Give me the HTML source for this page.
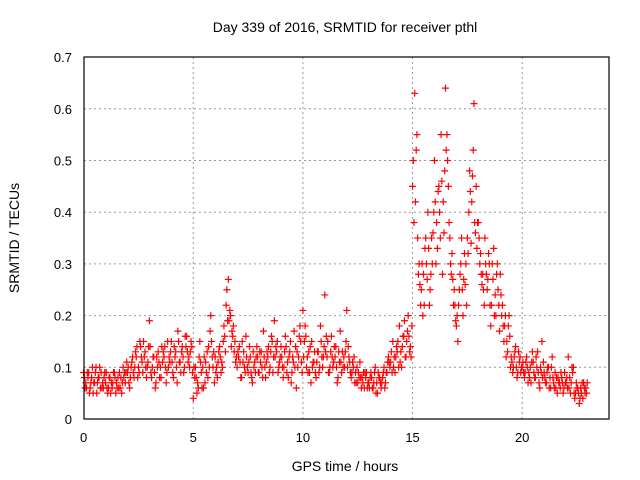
<!DOCTYPE html>
<html><head><meta charset="utf-8"><style>
body{margin:0;background:#fff}
svg{display:block;font-family:"Liberation Sans",sans-serif}
</style></head><body>
<svg id="chart" width="640" height="480">
<text x="345" y="32" text-anchor="middle" font-size="14">Day 339 of 2016, SRMTID for receiver pthl</text>
<text x="345" y="471" text-anchor="middle" font-size="14">GPS time / hours</text>
<text transform="translate(19,238) rotate(-90)" text-anchor="middle" font-size="14">SRMTID / TECUs</text>
<g id="grid"></g><g id="ticks"></g><g id="pts"></g>
<rect x="84" y="57" width="525" height="362" fill="none" stroke="#000" stroke-width="1.2"/>
</svg>
<script>
const xTicks=[0,5,10,15,20];
const yTicks=[0,0.1,0.2,0.3,0.4,0.5,0.6,0.7];
const yTickLabels=["0","0.1","0.2","0.3","0.4","0.5","0.6","0.7"];
const seriesA=[.09,.07,.08,.06,.10,.07,.05,.08,.09,.06,
.07,.05,.08,.06,.09,.07,.06,.08,.10,.07,
.09,.06,.11,.08,.12,.10,.14,.09,.13,.10,
.19,.08,.12,.07,.13,.10,.11,.14,.09,.12,
.15,.08,.13,.17,.11,.14,.10,.16,.12,.15,
.04,.10,.07,.15,.06,.12,.09,.14,.20,.10,
.12,.08,.14,.11,.18,.22,.27,.20,.16,.15,
.10,.14,.08,.13,.16,.09,.12,.07,.11,.14,
.09,.13,.17,.08,.12,.10,.15,.19,.13,.10,
.14,.08,.16,.11,.13,.09,.17,.06,.12,.15,
.21,.18,.12,.09,.15,.11,.08,.13,.18,.10,
.24,.12,.09,.16,.11,.14,.08,.17,.13,.10,
.21,.12,.08,.10,.09,.07,.11,.08,.06,.09,
.07,.09,.06,.10,.05,.08,.07,.10,.09,.12,
.11,.15,.09,.13,.18,.10,.16,.12,.20,.14,
.45,.63,.55,.30,.25,.28,.35,.40,.25,.30,
.50,.38,.45,.55,.42,.64,.50,.35,.32,.25,
.18,.22,.30,.20,.26,.35,.48,.42,.61,.45,
.38,.32,.28,.35,.25,.30,.22,.33,.20,.25,
.28,.22,.18,.15,.20,.12,.10,.14,.09,.12,
.10,.08,.12,.09,.07,.11,.08,.13,.06,.15,
.09,.07,.10,.06,.08,.09,.05,.07,.08,.06,
.07,.12,.05,.09,.04,.06,.03,.05,.07,.06];
const seriesB=[.06,.09,.05,.08,.07,.10,.08,.06,.07,.09,
.06,.08,.07,.09,.05,.08,.06,.07,.09,.11,
.07,.10,.09,.13,.08,.15,.11,.12,.08,.14,
.09,.12,.06,.10,.08,.14,.12,.07,.10,.13,
.09,.12,.07,.11,.13,.09,.14,.11,.13,.09,
.08,.05,.12,.09,.06,.11,.08,.17,.12,.07,
.10,.13,.09,.15,.13,.19,.21,.17,.13,.12,
.12,.08,.11,.09,.10,.14,.08,.10,.12,.09,
.11,.08,.10,.13,.09,.16,.12,.14,.09,.12,
.10,.13,.09,.12,.07,.11,.14,.10,.18,.09,
.15,.10,.13,.07,.11,.09,.13,.10,.12,.14,
.16,.09,.13,.10,.12,.07,.11,.09,.12,.15,
.14,.09,.11,.07,.10,.08,.06,.09,.08,.07,
.08,.06,.09,.07,.08,.06,.09,.07,.11,.10,
.09,.12,.14,.10,.13,.16,.12,.17,.13,.18,
.38,.52,.28,.22,.20,.33,.27,.22,.35,.40,
.30,.44,.35,.28,.48,.55,.38,.28,.22,.19,
.15,.28,.25,.32,.22,.40,.34,.52,.36,.38,
.30,.26,.22,.28,.32,.18,.27,.24,.30,.17,
.20,.15,.12,.18,.10,.09,.13,.08,.11,.10,
.09,.11,.07,.10,.13,.08,.10,.07,.09,.11,
.07,.10,.08,.12,.06,.08,.07,.09,.05,.07,
.06,.08,.10,.05,.07,.05,.06,.04,.05,.07];
const seriesC=[.08,.06,.09,.07,.05,.09,.07,.10,.06,.08,
.09,.06,.05,.07,.08,.06,.09,.05,.08,.09,
.10,.08,.12,.10,.14,.09,.12,.15,.10,.11,
.14,.10,.09,.12,.11,.08,.13,.10,.15,.11,
.11,.14,.10,.15,.09,.12,.16,.13,.10,.14,
.10,.08,.06,.11,.10,.07,.13,.10,.15,.13,
.09,.11,.12,.10,.16,.25,.19,.14,.18,.11,
.13,.11,.15,.10,.12,.11,.09,.13,.09,.12,
.13,.10,.12,.11,.14,.13,.09,.12,.15,.11,
.12,.10,.14,.08,.15,.12,.10,.13,.16,.11,
.12,.16,.09,.14,.10,.13,.11,.09,.15,.12,
.13,.15,.10,.12,.14,.10,.13,.11,.10,.13,
.10,.11,.09,.12,.07,.09,.08,.07,.09,.06,
.06,.08,.07,.05,.09,.07,.08,.06,.09,.11,
.13,.10,.12,.15,.11,.14,.19,.15,.16,.12,
.50,.42,.35,.26,.30,.22,.30,.33,.28,.36,
.42,.33,.40,.46,.36,.52,.45,.30,.27,.22,
.20,.25,.35,.27,.30,.32,.44,.47,.38,.33,
.35,.28,.25,.30,.27,.22,.30,.20,.28,.22,
.24,.18,.20,.13,.16,.11,.12,.10,.13,.09,
.11,.09,.10,.08,.11,.09,.12,.09,.10,.08,
.08,.09,.06,.10,.07,.06,.08,.06,.07,.09,
.08,.06,.07,.10,.05,.06,.04,.07,.06,.05];
const stepHours=0.1;
const X=t=>83.6+t*21.93;
const Y=v=>419-v*517;
const NS="http://www.w3.org/2000/svg";
const grid=document.getElementById('grid'),ticks=document.getElementById('ticks'),pts=document.getElementById('pts');
function mk(tag,attrs,parent){const e=document.createElementNS(NS,tag);for(const k in attrs)e.setAttribute(k,attrs[k]);parent.appendChild(e);return e;}
xTicks.forEach(t=>{
  const x=X(t);
  if(t>0){const g=mk('line',{x1:x,x2:x,y1:57,y2:419,stroke:'#999','stroke-dasharray':'2,3'},grid);
  
  }
  const l=mk('text',{x:x,y:442,'text-anchor':'middle','font-size':13},ticks);
  l.textContent=t;
  
  
});
yTicks.forEach((v,i)=>{
  const y=Y(v);
  if(v>0&&v<0.7){const g=mk('line',{x1:84,x2:609,y1:y,y2:y,stroke:'#999','stroke-dasharray':'2,3'},grid);
  
  }
  const l=mk('text',{x:72,y:y+5,'text-anchor':'end','font-size':13},ticks);
  l.textContent=yTickLabels[i];
  
  
});
function cross(t,v){
  const x=X(t),y=Y(v);
  const p=mk('path',{d:`M${x-3.5},${y}h7M${x},${y-3.5}v7`,stroke:'#f00','stroke-width':1.2,fill:'none'},pts);
  
  
}
seriesA.forEach((v,i)=>cross(i*stepHours,v));
seriesC.forEach((v,i)=>cross(i*stepHours+stepHours/3,v));
seriesB.forEach((v,i)=>cross(i*stepHours+2*stepHours/3,v));
</script>
</body></html>
